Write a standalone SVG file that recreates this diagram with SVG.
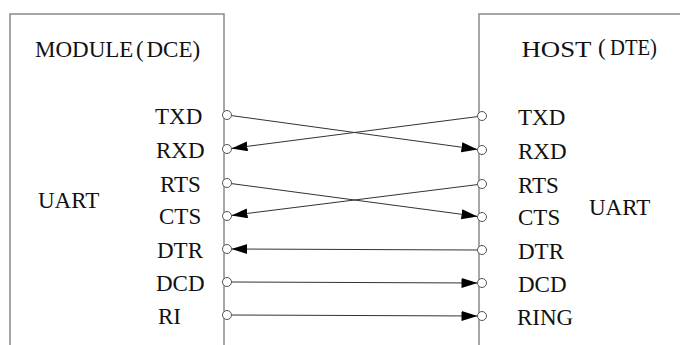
<svg xmlns="http://www.w3.org/2000/svg" width="680" height="345" viewBox="0 0 680 345" font-family="Liberation Serif" font-size="23">
<style>
.box{fill:none;stroke:#8a8a8a;stroke-width:1.5}
.c{fill:#fff;stroke:#555;stroke-width:1}
.w{stroke:#333;stroke-width:1;fill:none;marker-end:url(#ah)}
</style>
<defs>
<marker id="ah" markerUnits="userSpaceOnUse" markerWidth="17" markerHeight="11" refX="16" refY="5" orient="auto">
<path d="M0,0 L16,5 L0,10 z" fill="#000"/>
</marker>
</defs>
<g id="module" fill="#111">
<path class="box" d="M10,345 V14 H224 V345"/>
<text x="35" y="57">MODULE</text>
<text x="136" y="57">(</text>
<text x="146.5" y="57">DCE)</text>
<text x="38" y="208">UART</text>
<text x="155" y="124">TXD</text>
<text x="156" y="157.5">RXD</text>
<text x="160" y="191.5">RTS</text>
<text x="159" y="223.5">CTS</text>
<text x="157" y="257.5">DTR</text>
<text x="156" y="290.5">DCD</text>
<text x="158" y="324">RI</text>
</g>
<g id="host" fill="#111">
<path class="box" d="M680,14 H479 V345"/>
<text x="521.5" y="57" textLength="70" lengthAdjust="spacingAndGlyphs">HOST</text>
<text x="598" y="55">(</text>
<text x="610" y="55" textLength="47" lengthAdjust="spacingAndGlyphs">DTE)</text>
<text x="589" y="215">UART</text>
<text x="518" y="124.5">TXD</text>
<text x="518" y="158.5">RXD</text>
<text x="518" y="192.5">RTS</text>
<text x="518" y="225">CTS</text>
<text x="518" y="258.5">DTR</text>
<text x="518" y="291.5">DCD</text>
<text x="517" y="324.5">RING</text>
</g>
<g id="connectors">
<line class="w" x1="231.5" y1="115.6" x2="477.5" y2="149.4"/>
<line class="w" x1="477.5" y1="116.6" x2="231.5" y2="148.4"/>
<line class="w" x1="231.5" y1="183.6" x2="477.5" y2="216.4"/>
<line class="w" x1="477.5" y1="184.6" x2="231.5" y2="215.4"/>
<line class="w" x1="477.5" y1="250" x2="231.5" y2="249"/>
<line class="w" x1="231.5" y1="282" x2="477.5" y2="283"/>
<line class="w" x1="231.5" y1="315" x2="477.5" y2="316"/>
</g>
<g id="pins">
<circle class="c" cx="227" cy="115" r="4.5"/>
<circle class="c" cx="227" cy="149" r="4.5"/>
<circle class="c" cx="227" cy="183" r="4.5"/>
<circle class="c" cx="227" cy="216" r="4.5"/>
<circle class="c" cx="227" cy="249" r="4.5"/>
<circle class="c" cx="227" cy="282" r="4.5"/>
<circle class="c" cx="227" cy="315" r="4.5"/>
<circle class="c" cx="482" cy="116" r="4.5"/>
<circle class="c" cx="482" cy="150" r="4.5"/>
<circle class="c" cx="482" cy="184" r="4.5"/>
<circle class="c" cx="482" cy="217" r="4.5"/>
<circle class="c" cx="482" cy="250" r="4.5"/>
<circle class="c" cx="482" cy="283" r="4.5"/>
<circle class="c" cx="482" cy="316" r="4.5"/>
</g>
</svg>
